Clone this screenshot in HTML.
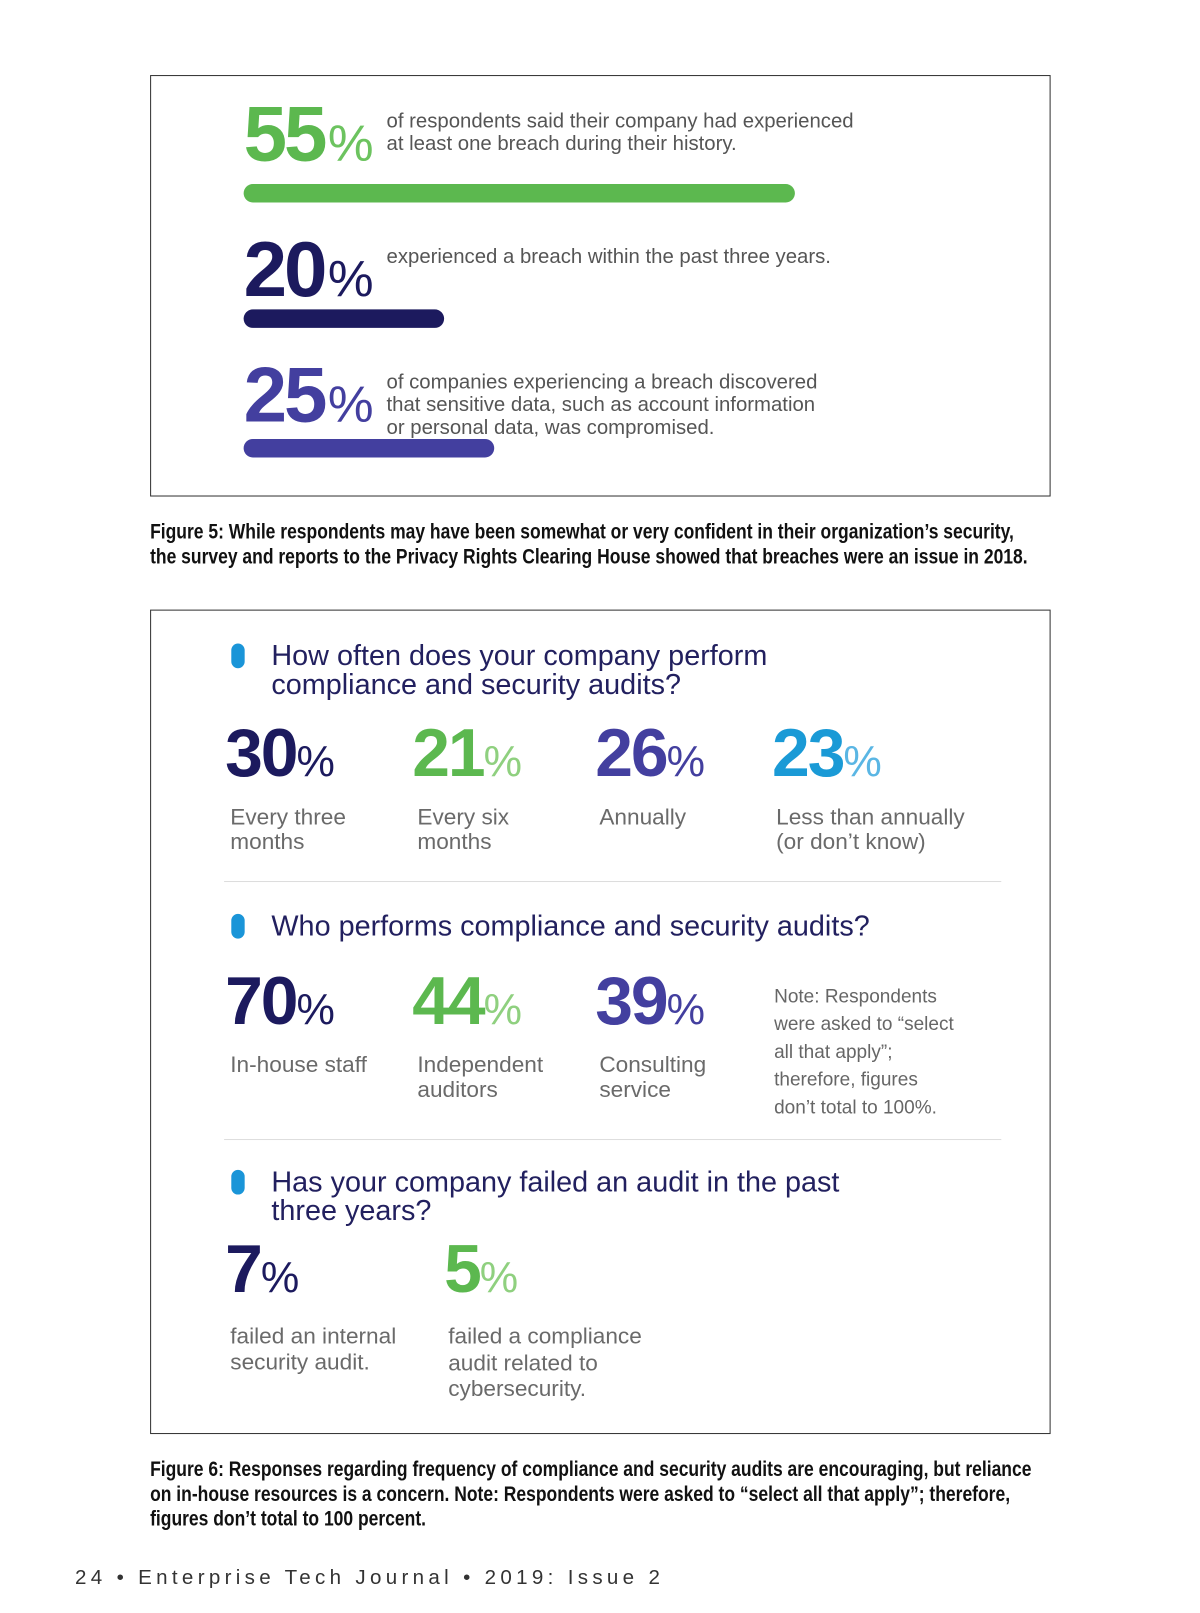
<!DOCTYPE html>
<html><head><meta charset="utf-8">
<style>
html,body{margin:0;padding:0;background:#fff;}
#root{position:relative;width:1160px;height:1560px;transform:scale(1.028);transform-origin:0 0;font-family:"Liberation Sans",sans-serif;}
.a{position:absolute;white-space:nowrap;}
.box{position:absolute;border:1.5px solid #333;background:#fff;}
.big{font-weight:bold;letter-spacing:-2px;}
.pct{font-weight:normal;letter-spacing:0;}
.q{color:#22205f;font-size:28px;line-height:28px;}
.lbl{color:#6a6a6a;font-size:22px;line-height:24px;}
.bul{position:absolute;width:13px;height:24px;border-radius:7px;background:#1a95d8;}
.div{position:absolute;height:1px;background:#ddd;left:218px;width:756px;}
.cap{position:absolute;left:146px;font-weight:bold;font-size:21px;line-height:24px;color:#111;transform:scaleX(0.81);transform-origin:0 0;white-space:nowrap;}
</style></head><body>
<div id="root">
<div class="box" style="left:146px;top:73px;width:874px;height:408px;"></div>
<svg id="fig5" style="position:absolute;left:0;top:0" width="1160" height="500"></svg>
<div class="cap" style="top:506px;">Figure 5: While respondents may have been somewhat or very confident in their organization’s security,<br>the survey and reports to the Privacy Rights Clearing House showed that breaches were an issue in 2018.</div>

<div class="box" style="left:146px;top:593px;width:874px;height:800px;"></div>
<div class="bul" style="left:225px;top:626px"></div>
<div class="a q" style="left:264px;top:624px">How often does your company perform<br>compliance and security audits?</div>
<div class="a big" style="left:219px;top:694px;font-size:66px;color:#1c1a5e">30<span class="pct" style="font-size:42px">%</span></div>
<div class="a big" style="left:401px;top:694px;font-size:66px;color:#5cb84f">21<span class="pct" style="font-size:42px;color:#8fd07f">%</span></div>
<div class="a big" style="left:579px;top:694px;font-size:66px;color:#433f9f">26<span class="pct" style="font-size:42px">%</span></div>
<div class="a big" style="left:751px;top:694px;font-size:66px;color:#1a9ad6">23<span class="pct" style="font-size:42px;color:#5ab6e4">%</span></div>
<div class="a lbl" style="left:224px;top:783px">Every three<br>months</div>
<div class="a lbl" style="left:406px;top:783px">Every six<br>months</div>
<div class="a lbl" style="left:583px;top:783px">Annually</div>
<div class="a lbl" style="left:755px;top:783px">Less than annually<br>(or don’t know)</div>
<div class="div" style="top:857px"></div>

<div class="bul" style="left:225px;top:889px"></div>
<div class="a q" style="left:264px;top:887px">Who performs compliance and security audits?</div>
<div class="a big" style="left:219px;top:935px;font-size:66px;color:#1c1a5e">70<span class="pct" style="font-size:42px">%</span></div>
<div class="a big" style="left:401px;top:935px;font-size:66px;color:#5cb84f">44<span class="pct" style="font-size:42px;color:#8fd07f">%</span></div>
<div class="a big" style="left:579px;top:935px;font-size:66px;color:#433f9f">39<span class="pct" style="font-size:42px">%</span></div>
<div class="a lbl" style="left:224px;top:1024px">In-house staff</div>
<div class="a lbl" style="left:406px;top:1024px">Independent<br>auditors</div>
<div class="a lbl" style="left:583px;top:1024px">Consulting<br>service</div>
<div class="a" style="left:753px;top:955px;color:#666;font-size:18.5px;line-height:27px;">Note: Respondents<br>were asked to “select<br>all that apply”;<br>therefore, figures<br>don’t total to 100%.</div>
<div class="div" style="top:1108px"></div>

<div class="bul" style="left:225px;top:1138px"></div>
<div class="a q" style="left:264px;top:1136px">Has your company failed an audit in the past<br>three years?</div>
<div class="a big" style="left:219px;top:1196px;font-size:66px;color:#1c1a5e">7<span class="pct" style="font-size:42px">%</span></div>
<div class="a big" style="left:432px;top:1196px;font-size:66px;color:#5cb84f">5<span class="pct" style="font-size:42px;color:#8fd07f">%</span></div>
<div class="a lbl" style="left:224px;top:1287px;line-height:25px">failed an internal<br>security audit.</div>
<div class="a lbl" style="left:436px;top:1287px;line-height:25.5px">failed a compliance<br>audit related to<br>cybersecurity.</div>

<div class="cap" style="top:1418px;">Figure 6: Responses regarding frequency of compliance and security audits are encouraging, but reliance<br>on in-house resources is a concern. Note: Respondents were asked to “select all that apply”; therefore,<br>figures don’t total to 100 percent.</div>

<div class="a" style="left:73px;top:1524px;font-size:20px;letter-spacing:4.2px;color:#333;">24 • Enterprise Tech Journal • 2019: Issue 2</div>
</div>
<script>
const values=[55,20,25];
const pctLabels=["55","20","25"];
const descs=[["of respondents said their company had experienced","at least one breach during their history."],["experienced a breach within the past three years."],["of companies experiencing a breach discovered","that sensitive data, such as account information","or personal data, was compromised."]];
const colors=["#5cb84f","#1c1a5e","#433f9f"];
const pctColors=["#6cc35f","#1c1a5e","#433f9f"];
const svg=document.getElementById('fig5');
const NS="http://www.w3.org/2000/svg";
const x0=237, pxPer=9.75;
function xScale(v){return v*pxPer;}
const rowTop=[96,228,350];
const barY=[188,310,436];
values.forEach((v,i)=>{
  const g=document.createElementNS(NS,'g');
  
  
  const t=document.createElementNS(NS,'text');
  t.setAttribute('x',x0);t.setAttribute('y',rowTop[i]+60);
  t.setAttribute('font-family','Liberation Sans, sans-serif');
  t.setAttribute('font-weight','bold');t.setAttribute('font-size','76');
  t.setAttribute('letter-spacing','-3');
  t.setAttribute('fill',colors[i]);
  
  
  t.textContent=pctLabels[i];
  g.appendChild(t);
  const p=document.createElementNS(NS,'text');
  p.setAttribute('x',x0+82);p.setAttribute('y',rowTop[i]+60);
  p.setAttribute('font-family','Liberation Sans, sans-serif');
  p.setAttribute('font-size','50');p.setAttribute('fill',pctColors[i]);
  
  
  p.textContent='%';
  g.appendChild(p);
  descs[i].forEach((line,j)=>{
    const d=document.createElementNS(NS,'text');
    d.setAttribute('x',376);d.setAttribute('y',rowTop[i]+28+j*22);
    d.setAttribute('font-family','Liberation Sans, sans-serif');
    d.setAttribute('font-size','19.8');d.setAttribute('fill','#555');
    
    
    d.textContent=line;
    g.appendChild(d);
  });
  const b=document.createElementNS(NS,'rect');
  b.setAttribute('x',x0);b.setAttribute('y',barY[i]-9);
  b.setAttribute('width',xScale(v));b.setAttribute('height',18);
  b.setAttribute('rx',9);b.setAttribute('fill',colors[i]);
  
  
  g.appendChild(b);
  svg.appendChild(g);
});
</script>
</body></html>
